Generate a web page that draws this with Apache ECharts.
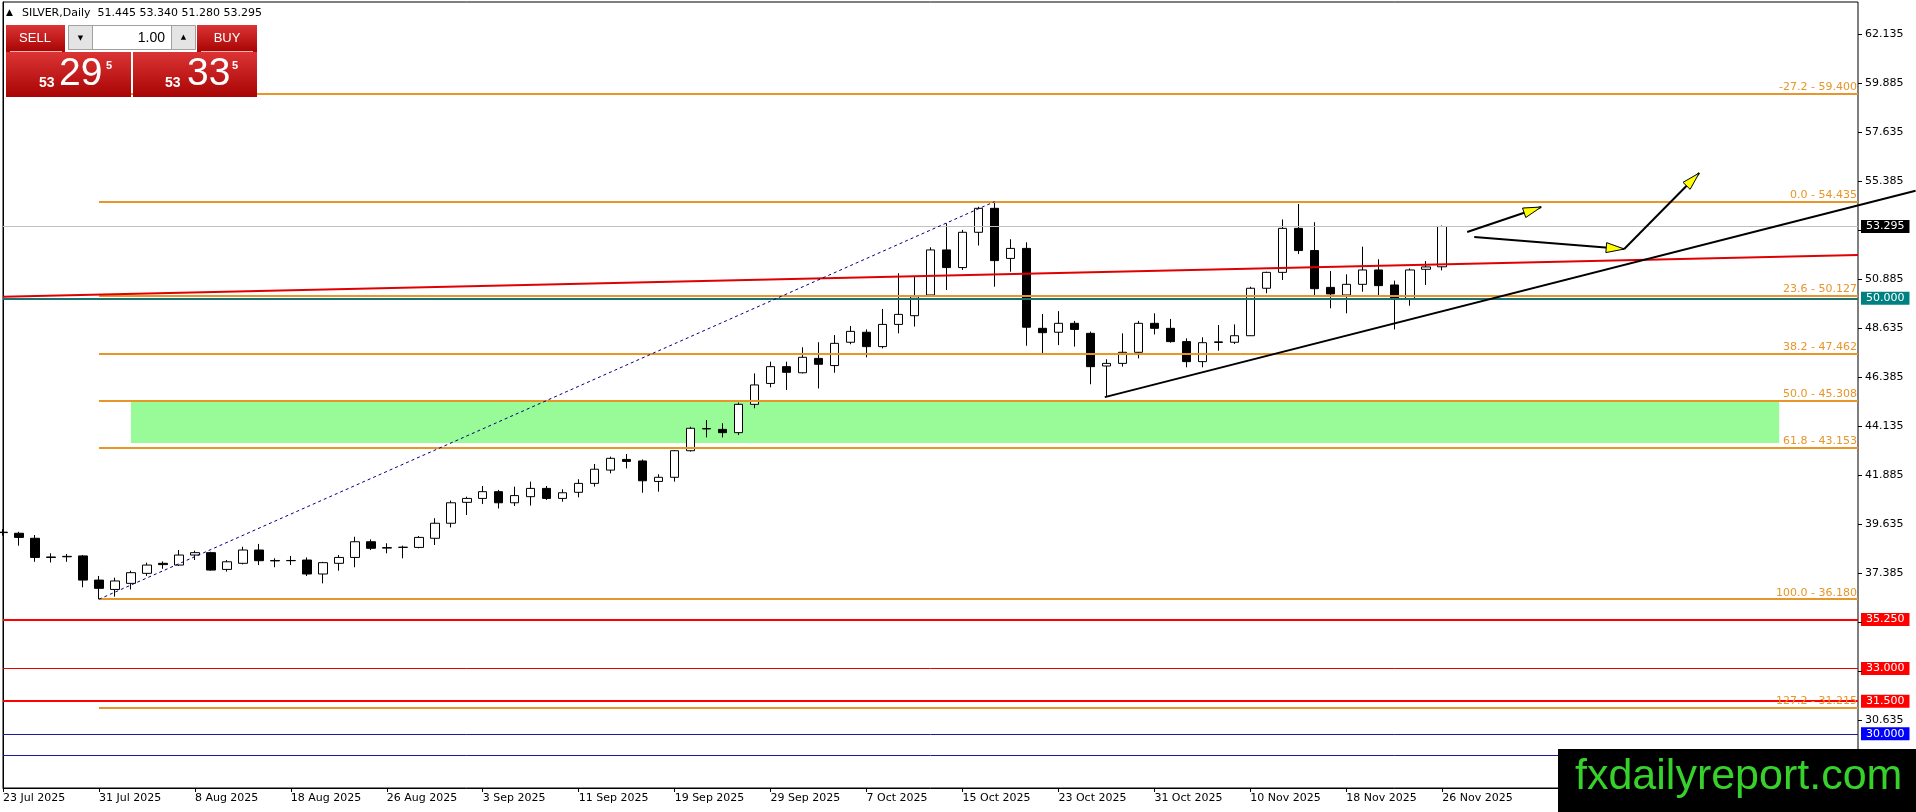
<!DOCTYPE html>
<html lang="en">
<head>
<meta charset="UTF-8">
<title>SILVER,Daily</title>
<script src="https://cdn.jsdelivr.net/npm/echarts@6.0.0/dist/echarts.min.js"></script>
<style>
    html, body { margin: 0; padding: 0; background: #ffffff; }
    #chartmain { width: 1916px; height: 812px; }
</style>
</head>
<body>
<div id="chartmain"></div>
<script>
// trading days shown on the chart
var dates = [
    '23 Jul 2025','24 Jul 2025','25 Jul 2025','28 Jul 2025','29 Jul 2025','30 Jul 2025',
    '31 Jul 2025','1 Aug 2025','4 Aug 2025','5 Aug 2025','6 Aug 2025','7 Aug 2025',
    '8 Aug 2025','11 Aug 2025','12 Aug 2025','13 Aug 2025','14 Aug 2025','15 Aug 2025',
    '18 Aug 2025','19 Aug 2025','20 Aug 2025','21 Aug 2025','22 Aug 2025','25 Aug 2025',
    '26 Aug 2025','27 Aug 2025','28 Aug 2025','29 Aug 2025','1 Sep 2025','2 Sep 2025',
    '3 Sep 2025','4 Sep 2025','5 Sep 2025','8 Sep 2025','9 Sep 2025','10 Sep 2025',
    '11 Sep 2025','12 Sep 2025','15 Sep 2025','16 Sep 2025','17 Sep 2025','18 Sep 2025',
    '19 Sep 2025','22 Sep 2025','23 Sep 2025','24 Sep 2025','25 Sep 2025','26 Sep 2025',
    '29 Sep 2025','30 Sep 2025','1 Oct 2025','2 Oct 2025','3 Oct 2025','6 Oct 2025',
    '7 Oct 2025','8 Oct 2025','9 Oct 2025','10 Oct 2025','13 Oct 2025','14 Oct 2025',
    '15 Oct 2025','16 Oct 2025','17 Oct 2025','20 Oct 2025','21 Oct 2025','22 Oct 2025',
    '23 Oct 2025','24 Oct 2025','27 Oct 2025','28 Oct 2025','29 Oct 2025','30 Oct 2025',
    '31 Oct 2025','3 Nov 2025','4 Nov 2025','5 Nov 2025','6 Nov 2025','7 Nov 2025',
    '10 Nov 2025','11 Nov 2025','12 Nov 2025','13 Nov 2025','14 Nov 2025','17 Nov 2025',
    '18 Nov 2025','19 Nov 2025','20 Nov 2025','21 Nov 2025','24 Nov 2025','25 Nov 2025',
    '26 Nov 2025'
];
var emptySlots = 26;   // free space right of the last bar

var opens = [
    39.26,39.21,38.98,38.12,38.13,38.17,37.06,36.63,36.91,37.37,37.83,37.75,
    38.21,38.32,37.55,37.83,38.44,37.96,37.95,37.98,37.34,37.83,38.10,38.82,
    38.55,38.56,38.56,38.98,39.67,40.63,40.81,41.12,40.61,40.89,41.27,40.81,
    41.09,41.50,42.11,42.60,42.53,41.59,41.78,43.00,44.00,43.98,43.83,45.13,
    46.09,46.86,46.58,47.24,46.91,47.98,48.44,47.78,48.80,49.20,50.15,52.22,
    51.41,53.03,54.13,51.83,52.29,48.62,48.44,48.85,48.39,46.89,47.01,47.52,
    48.85,48.62,48.01,47.09,47.97,47.98,48.28,50.46,51.19,53.21,52.19,50.50,
    50.15,50.64,51.30,50.61,49.95,51.33,51.445
];
var highs = [
    39.40,39.28,39.13,38.29,38.26,38.21,37.25,37.17,37.49,37.86,37.92,38.44,
    38.41,38.36,37.98,38.59,38.72,38.06,38.17,38.10,37.90,38.21,39.05,38.93,
    38.75,38.64,39.08,39.90,40.71,40.89,41.38,41.20,41.35,41.58,41.38,41.23,
    41.69,42.39,42.73,42.85,42.60,41.92,43.03,44.10,44.41,44.26,45.21,46.55,
    47.09,47.09,47.75,47.98,48.31,48.73,48.57,49.51,51.15,51.00,52.34,53.44,
    53.14,54.20,54.435,52.71,52.57,49.28,49.41,48.96,48.47,47.20,48.39,48.96,
    49.31,49.05,48.16,48.21,48.77,48.80,50.53,51.22,53.62,54.33,53.49,51.25,
    51.10,52.37,51.79,50.81,51.37,51.71,53.340
];
var lows = [
    39.10,38.64,37.90,37.87,37.90,36.73,36.18,36.30,36.63,37.25,37.58,37.71,
    37.98,37.49,37.45,37.78,37.75,37.65,37.75,37.25,36.91,37.49,37.65,38.44,
    38.29,38.06,38.52,38.67,39.48,40.05,40.55,40.35,40.46,40.48,40.74,40.66,
    40.86,41.35,41.96,42.19,41.07,41.12,41.58,42.96,43.61,43.61,43.72,44.95,
    45.91,45.79,46.55,45.86,46.58,47.89,47.29,47.70,48.39,48.70,50.10,50.38,
    51.30,52.42,50.53,51.22,47.82,47.47,47.85,47.78,46.05,45.48,46.86,47.24,
    48.34,47.96,46.83,46.83,47.59,47.90,48.27,50.23,50.84,52.03,50.15,49.54,
    49.31,50.30,50.15,48.57,49.66,50.61,51.280
];
var closes = [
    39.24,39.02,38.10,38.10,38.15,37.06,36.68,37.02,37.40,37.75,37.77,38.21,
    38.32,37.52,37.90,38.44,37.95,37.94,37.96,37.34,37.86,38.10,38.82,38.52,
    38.53,38.57,39.02,39.67,40.61,40.81,41.12,40.61,40.94,41.27,40.81,41.07,
    41.50,42.15,42.65,42.51,41.62,41.78,43.00,44.03,44.02,43.83,45.13,46.02,
    46.86,46.60,47.29,46.97,47.93,48.48,47.78,48.80,49.26,50.07,52.22,51.41,
    53.03,54.13,51.73,52.29,48.67,48.42,48.85,48.57,46.86,47.01,47.52,48.85,
    48.62,48.01,47.09,47.96,48.00,48.28,50.46,51.19,53.21,52.19,50.44,50.20,
    50.64,51.30,50.58,49.95,51.30,51.44,53.295
];

// price scale tick labels
var priceTicks = [62.135,59.885,57.635,55.385,53.135,50.885,48.635,46.385,44.135,41.885,39.635,37.385,35.135,32.885,30.635];
var hiddenTicks = [53.135,35.135,32.885];   // covered by price boxes

// fibonacci retracement (31 Jul low -> 17 Oct high)
var fibRatios = [-27.2, 0.0, 23.6, 38.2, 50.0, 61.8, 100.0, 127.2];
var fibPrices = [59.400, 54.435, 50.127, 47.462, 45.308, 43.153, 36.180, 31.215];
var fibStart = 6;

// horizontal price lines with their boxes on the scale
var levelPrices = [53.295, 50.000, 35.250, 33.000, 31.500, 30.000, 29.000];
var levelColors = ['#c0c0c0', '#1b7272', '#ff0000', '#e60000', '#ff0000', '#1a1aa0', '#1a1aa0'];
var levelWidths = [1, 2, 2, 1, 2, 1, 1];
var levelBoxes  = ['#000000', '#008080', '#ff0000', '#ff0000', '#ff0000', '#0000ff', '#0000ff'];

// drawn objects: [barFrom, priceFrom, barTo, priceTo]
var redLine   = [0, 50.07, 116, 51.99];
var fibLine   = [6, 36.180, 62, 54.435];
var trendLine = [68.9, 45.46, 119.6, 54.94];
var arrowA    = [91.56, 53.04, 96.19, 54.19];
var arrowB    = [92.0, 52.81, 101.38, 52.26];
var arrowC    = [101.38, 52.26, 106.07, 55.75];
var zoneBox   = [8.0, 45.25, 111.07, 43.35];

var bidPrice = 53.295;
var askPrice = 53.335;

// ---------------------------------------------------------------
var categories = dates.slice();
for (var k = 0; k < emptySlots; k++) categories.push('');
var lastIdx = categories.length - 1;

var candles = [];
for (var i = 0; i < dates.length; i++) {
    candles.push([opens[i], closes[i], lows[i], highs[i]]);
}

var segments = [redLine, fibLine, trendLine, arrowA, arrowB, arrowC];
var segmentKinds = ['red', 'fib', 'trend', 'arrow', 'arrow', 'arrow'];
var segmentStyles = {
    red:   {color: '#e00000', width: 2},
    fib:   {color: '#000080', width: 1, dash: [3, 3]},
    trend: {color: '#000000', width: 2},
    arrow: {color: '#000000', width: 2}
};

var orange = '#e8952a';
var labelFont = 'DejaVu Sans';

function renderSegment(params, api) {
    var p1 = api.coord([api.value(0), api.value(1)]);
    var p2 = api.coord([api.value(2), api.value(3)]);
    var kind = segmentKinds[params.dataIndex];
    var st = segmentStyles[kind];
    var children = [{
        type: 'line',
        shape: {x1: p1[0], y1: p1[1], x2: p2[0], y2: p2[1]},
        style: {stroke: st.color, lineWidth: st.width, lineDash: st.dash || null}
    }];
    if (kind === 'arrow') {
        var dx = p2[0] - p1[0], dy = p2[1] - p1[1];
        var len = Math.sqrt(dx * dx + dy * dy);
        var ux = dx / len, uy = dy / len;
        var L = 18, W = 5;
        var bx = p2[0] - ux * L, by = p2[1] - uy * L;
        children.push({
            type: 'polygon',
            shape: {points: [[p2[0], p2[1]], [bx - uy * W, by + ux * W], [bx + uy * W, by - ux * W]]},
            style: {fill: '#ffff00', stroke: '#000000', lineWidth: 1}
        });
    }
    return {type: 'group', children: children};
}

// small outward ticks on the price scale
function renderScaleTick(params, api) {
    var p = api.coord([api.value(0), api.value(1)]);
    var y = Math.round(p[1]) + 0.5;
    return {
        type: 'line',
        shape: {x1: p[0], y1: y, x2: p[0] + 4, y2: y},
        style: {stroke: '#000', lineWidth: 1}
    };
}

var fibMarks = fibPrices.map(function (p, n) {
    return [
        {coord: [fibStart, p], lineStyle: {color: orange, width: 2}},
        {coord: [lastIdx, p], label: {formatter: fibRatios[n].toFixed(1) + ' - ' + p.toFixed(3)}}
    ];
});

var levelMarks = levelPrices.map(function (p, n) {
    return {
        yAxis: p,
        lineStyle: {color: levelColors[n], width: levelWidths[n], type: 'solid'},
        label: {backgroundColor: levelBoxes[n], formatter: p.toFixed(3)}
    };
});

function redBox(x, y, w, h) {
    return {
        type: 'rect', z: 100,
        shape: {x: x, y: y, width: w, height: h},
        style: {fill: new echarts.graphic.LinearGradient(0, 0, 0, 1, [
            {offset: 0, color: '#dc3434'}, {offset: 1, color: '#a80404'}
        ])}
    };
}
function txt(x, y, s, size, opts) {
    opts = opts || {};
    return {
        type: 'text', z: opts.z || 101, x: x, y: y,
        style: {
            text: s, fill: opts.fill || '#ffffff',
            font: (opts.bold ? 'bold ' : '') + size + 'px ' + (opts.family || 'Liberation Sans'),
            textAlign: opts.align || 'left', textVerticalAlign: 'middle'
        }
    };
}

var bidStr = bidPrice.toFixed(3), askStr = askPrice.toFixed(3);
var last = dates.length - 1;
var headerText = 'SILVER,Daily  ' + opens[last].toFixed(3) + ' ' + highs[last].toFixed(3) + ' ' +
    lows[last].toFixed(3) + ' ' + closes[last].toFixed(3);

var option = {
    animation: false,
    textStyle: {fontFamily: labelFont},
    grid: {left: 3, right: 58, top: 2, bottom: 24, show: true, borderColor: '#000', borderWidth: 1, backgroundColor: '#fff'},
    xAxis: [{
        type: 'category',
        data: categories,
        boundaryGap: false,
        axisLine: {lineStyle: {color: '#000', width: 1}},
        axisTick: {
            length: 4, lineStyle: {color: '#000'},
            interval: function (idx, val) { return idx % 6 === 0 && val !== ''; }
        },
        axisLabel: {
            color: '#000', fontSize: 11, fontFamily: labelFont, align: 'left', margin: 5,
            interval: function (idx, val) { return idx % 6 === 0 && val !== ''; }
        },
        splitLine: {show: false}
    }, {
        type: 'value', min: 0, max: lastIdx, show: false
    }],
    yAxis: {
        type: 'value', position: 'right',
        min: 27.513, max: 63.604,
        axisLine: {show: true, lineStyle: {color: '#000', width: 1}},
        axisTick: {show: false},
        axisLabel: {
            color: '#000', fontSize: 11, fontFamily: labelFont, margin: 7,
            customValues: priceTicks.filter(function (v) { return hiddenTicks.indexOf(v) < 0; }),
            formatter: function (v) { return v.toFixed(3); }
        },
        splitLine: {show: false},
        minorTick: {show: false},
        minorSplitLine: {show: false}
    },
    series: [{
        name: 'zone', type: 'line', xAxisIndex: 1, data: [], z: 1, silent: true,
        markArea: {
            silent: true,
            itemStyle: {color: '#98fb98'},
            data: [[{coord: [zoneBox[0], zoneBox[1]]}, {coord: [zoneBox[2], zoneBox[3]]}]]
        }
    }, {
        name: 'SILVER', type: 'candlestick', data: candles, z: 2, barWidth: 9, silent: true,
        itemStyle: {color: '#ffffff', color0: '#000000', borderColor: '#000000', borderColor0: '#000000', borderWidth: 1}
    }, {
        name: 'fibo', type: 'line', xAxisIndex: 1, data: [], z: 3, silent: true,
        markLine: {
            silent: true, symbol: 'none', animation: false, precision: 3,
            label: {show: true, position: 'insideEndTop', distance: 1, color: orange, fontSize: 11, fontFamily: labelFont},
            lineStyle: {color: orange, width: 2, type: 'solid'},
            data: fibMarks
        }
    }, {
        name: 'levels', type: 'line', xAxisIndex: 1, data: [], z: 4, silent: true,
        markLine: {
            silent: true, symbol: 'none', animation: false, precision: 3,
            label: {
                show: true, position: 'end', distance: 3, color: '#fff', fontSize: 11, fontFamily: labelFont,
                padding: [1, 5, 0, 5], lineHeight: 12
            },
            data: levelMarks
        }
    }, {
        name: 'objects', type: 'custom', xAxisIndex: 1, z: 5, clip: false, silent: true,
        encode: {x: [0, 2], y: [1, 3]},
        renderItem: renderSegment,
        data: segments
    }, {
        name: 'scaleTicks', type: 'custom', xAxisIndex: 1, z: 6, clip: false, silent: true,
        encode: {x: 0, y: 1},
        renderItem: renderScaleTick,
        data: priceTicks.map(function (v) { return [lastIdx, v]; })
    }],
    graphic: [
        txt(6, 13, '\u25B2', 9, {fill: '#000', family: labelFont}),
        txt(22, 13, headerText, 11, {fill: '#000', family: labelFont}),
        // one-click trading panel
        redBox(6, 25, 59, 27),
        redBox(197, 25, 60, 27),
        redBox(6, 52, 125, 45),
        redBox(133, 52, 124, 45),
        {type: 'rect', z: 101, shape: {x: 10, y: 51, width: 52, height: 1}, style: {fill: '#f4b0b0'}},
        {type: 'rect', z: 101, shape: {x: 201, y: 51, width: 52, height: 1}, style: {fill: '#f4b0b0'}},
        {type: 'rect', z: 100, shape: {x: 68.5, y: 25.5, width: 127, height: 24}, style: {fill: '#fff', stroke: '#a0a0a0', lineWidth: 1}},
        {type: 'rect', z: 101, shape: {x: 68.5, y: 25.5, width: 24, height: 24}, style: {fill: '#e4e4e4', stroke: '#a0a0a0', lineWidth: 1}},
        {type: 'rect', z: 101, shape: {x: 171.5, y: 25.5, width: 24, height: 24}, style: {fill: '#e4e4e4', stroke: '#a0a0a0', lineWidth: 1}},
        txt(80.5, 38, '\u25BC', 7, {fill: '#000', family: labelFont, align: 'center', z: 102}),
        txt(183.5, 37, '\u25B2', 7, {fill: '#000', family: labelFont, align: 'center', z: 102}),
        txt(165, 38, '1.00', 14, {fill: '#000', align: 'right', z: 102}),
        txt(35, 38.5, 'SELL', 13, {align: 'center'}),
        txt(227, 38.5, 'BUY', 13, {align: 'center'}),
        txt(39, 83.5, bidStr.slice(0, 2), 14, {bold: true}),
        txt(59, 74.5, bidStr.slice(3, 5), 39),
        txt(106, 66, bidStr.slice(5, 6), 11, {bold: true}),
        txt(165, 83.5, askStr.slice(0, 2), 14, {bold: true}),
        txt(187, 74.5, askStr.slice(3, 5), 39),
        txt(232, 66, askStr.slice(5, 6), 11, {bold: true}),
        // watermark
        {type: 'rect', z: 110, shape: {x: 1558, y: 749, width: 358, height: 63}, style: {fill: '#000'}},
        txt(1575, 777, 'fxdailyreport.com', 43, {fill: '#36d12a', z: 111})
    ]
};

var myChart = echarts.init(document.getElementById('chartmain'));
myChart.setOption(option);
</script>
</body>
</html>
